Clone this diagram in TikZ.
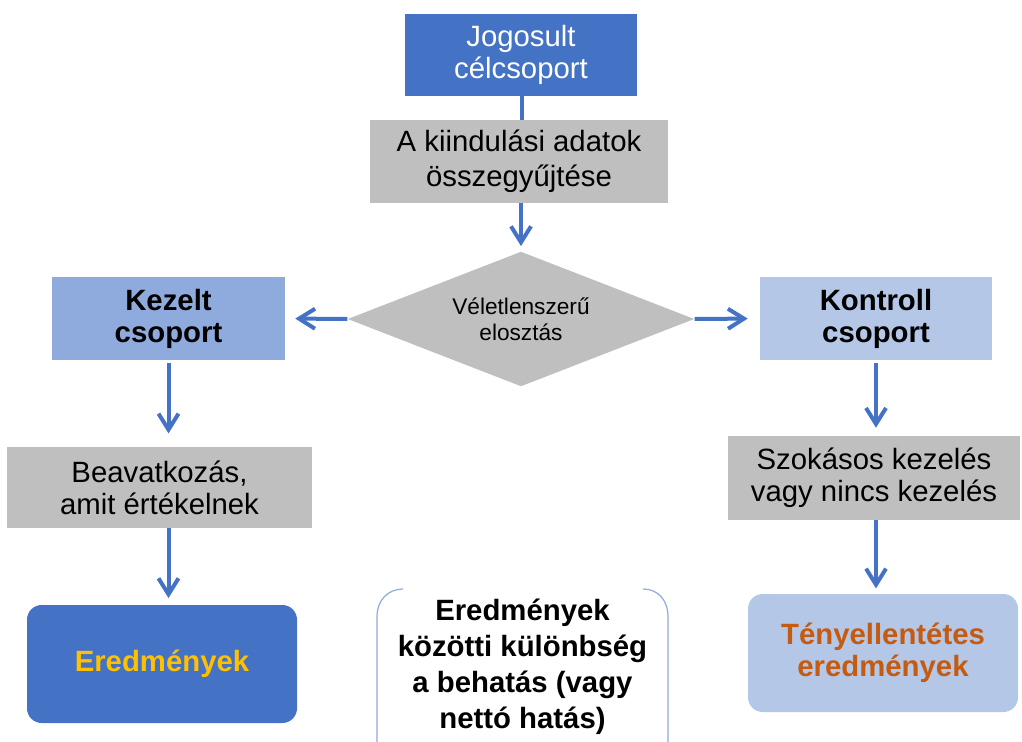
\documentclass[tikz,border=0pt]{standalone}
\usepackage{fontspec}
\setmainfont{Liberation Sans}
\usetikzlibrary{shapes.geometric,arrows.meta}
\definecolor{dblue}{HTML}{4472C4}
\definecolor{mblue}{HTML}{8FAADC}
\definecolor{lblue}{HTML}{B4C7E7}
\definecolor{gboxc}{HTML}{BFBFBF}
\definecolor{goldc}{HTML}{FFC000}
\definecolor{orangec}{HTML}{C55A11}
\tikzset{
  box/.style={rectangle, inner sep=0pt, align=center, font=\fontsize{22}{24}\selectfont},
  greybox/.style={box, fill=gboxc, text=black},
  conn/.style={draw=dblue, line width=3pt, -{Straight Barb[length=12pt,width=15pt,line width=3pt]}},
  plain/.style={draw=dblue, line width=3pt},
}
\begin{document}
\begin{tikzpicture}[x=0.75pt,y=-0.75pt]
\useasboundingbox (0,0) rectangle (1022,742);
\node[box, fill=dblue, text=white, minimum width=174pt, minimum height=61.5pt] (top) at (521,55) {Jogosult\\célcsoport};
\node[greybox, minimum width=223.5pt, minimum height=62.25pt, font=\fontsize{22}{26}\selectfont] (base) at (519,161.5) {A kiindulási adatok\\összegyűjtése};
\node[diamond, fill=gboxc, inner sep=0pt, minimum width=260pt, minimum height=101pt, aspect=2.57, align=center, font=\fontsize{17}{19.5}\selectfont] (rand) at (521,319) {Véletlenszerű\\elosztás};
\node[box, fill=mblue, font=\fontsize{22}{24}\selectfont\bfseries, minimum width=174.75pt, minimum height=62.25pt] (kez) at (168.5,318.5) {Kezelt\\csoport};
\node[box, fill=lblue, font=\fontsize{22}{24}\selectfont\bfseries, minimum width=174pt, minimum height=62.25pt] (kont) at (876,318.5) {Kontroll\\csoport};
\node[greybox, minimum width=228.75pt, minimum height=60.75pt] (beav) at (159.5,487.5) {Beavatkozás,\\amit értékelnek};
\node[greybox, minimum width=219pt, minimum height=63pt] (szok) at (874,478) {Szokásos kezelés\\vagy nincs kezelés};
\node[box, fill=dblue, text=goldc, rounded corners=11pt, font=\fontsize{22}{24}\selectfont\bfseries, minimum width=202.5pt, minimum height=88.5pt] (ered) at (162,664) {Eredmények};
\node[box, fill=lblue, text=orangec, rounded corners=11pt, font=\fontsize{22}{24}\selectfont\bfseries, minimum width=202.5pt, minimum height=88.5pt] (teny) at (883,653) {Tényellentétes\\eredmények};
\node[box, font=\fontsize{22}{27}\selectfont\bfseries] (diff) at (522.5,667) {Eredmények\\közötti különbség\\a behatás (vagy\\nettó hatás)};
\coordinate (dtl) at (403,589);
\coordinate (dtr) at (643,589);
\coordinate (dbl) at (377,742);
\coordinate (dbr) at (668,742);
\draw[mblue, line width=0.9pt] (dtl) .. controls (388,589) and (377,600) .. (377,617) -- (dbl);
\draw[mblue, line width=0.9pt] (dtr) .. controls (658,589) and (668,600) .. (668,617) -- (dbr);
% connectors
\draw[plain] (top.south -| 522,0) -- (base.north -| 522,0);
\draw[conn, shorten >=4pt] (base.south -| rand.north) -- (rand.north);
\draw[conn, shorten >=7.5pt] (rand.west) -- (kez.east);
\draw[conn, shorten >=9pt] (rand.east) -- (kont.west);
\draw[conn, shorten <=2pt, shorten >=10pt] (kez.south) -- (kez.south |- beav.north);
\draw[conn, shorten >=5pt] (beav.south -| kez.south) -- (ered.north -| kez.south);
\draw[conn, shorten <=2pt, shorten >=6pt] (kont.south) -- (kont.south |- szok.north);
\draw[conn, shorten >=4pt] (szok.south -| kont.south) -- (teny.north -| kont.south);
\end{tikzpicture}
\end{document}
